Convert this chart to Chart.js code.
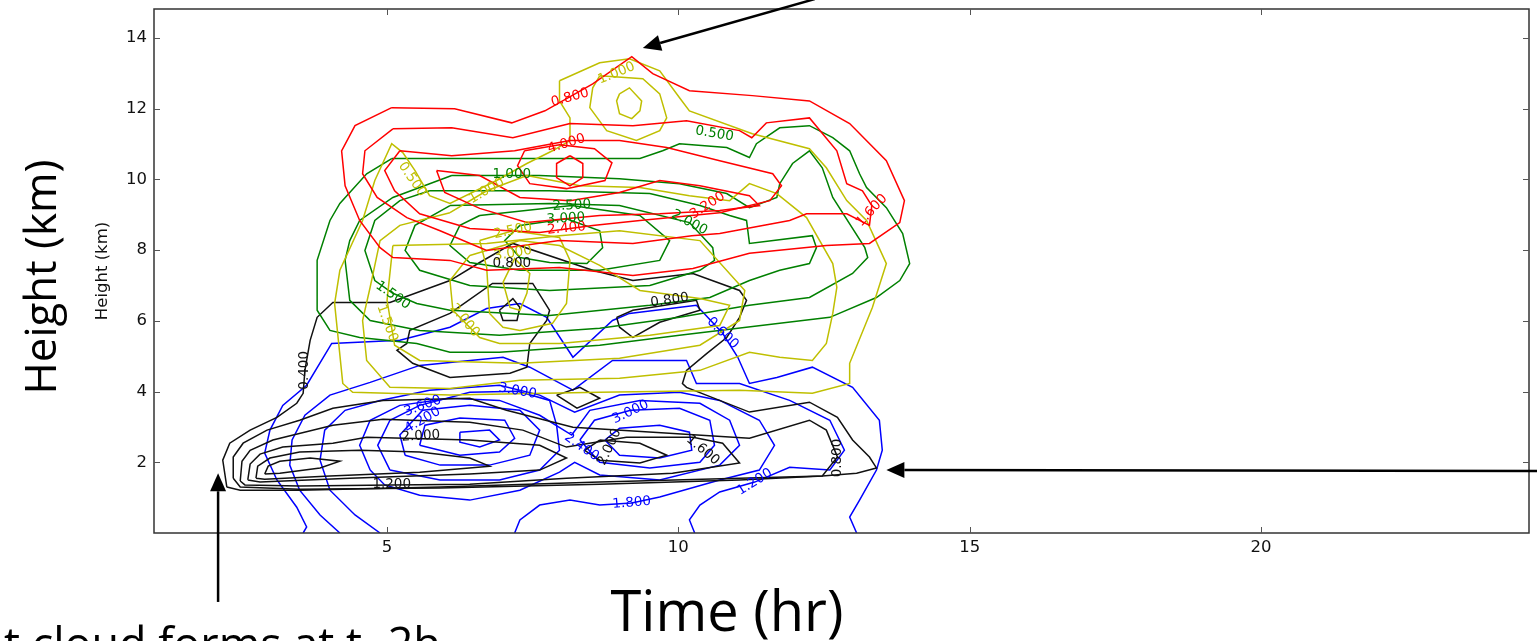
<!DOCTYPE html>
<html>
<head>
<meta charset="utf-8">
<script src="https://cdn.jsdelivr.net/npm/chart.js@4.4.0/dist/chart.umd.min.js"></script>
<style>
  html, body { margin: 0; padding: 0; background: #fff; }
</style>
</head>
<body>
<canvas id="c" width="1537" height="641"></canvas>
<script>
// axis ranges and ticks (time in hours, height in km)
const xRange = [1, 24.6];
const yRange = [0, 14.82];
const xTicks = [5, 10, 15, 20];
const yTicks = [2, 4, 6, 8, 10, 12, 14];

// red contours
const red08 = [[5.08,12.03],[6.16,12.00],[7.14,11.60],[7.71,11.94],[8.53,12.70],[9.20,13.47],[9.56,12.99],[10.19,12.51],[11.27,12.37],[12.25,12.22],[12.94,11.58],[13.57,10.53],[13.88,9.40],[13.80,8.78],[13.28,8.19],[12.54,8.13],[11.22,7.91],[10.25,7.48],[9.22,7.28],[7.96,7.51],[6.71,7.43],[6.08,7.71],[5.10,7.79],[4.88,8.07],[4.53,8.84],[4.28,9.82],[4.22,10.81],[4.45,11.52]];
const red16 = [[5.10,11.43],[6.11,11.46],[7.16,11.18],[8.14,11.58],[9.22,11.52],[10.14,11.66],[11.05,11.38],[11.26,11.18],[11.51,11.60],[12.25,11.74],[12.72,10.81],[12.89,9.88],[13.16,9.68],[13.32,9.26],[13.28,8.70],[12.89,9.03],[12.20,9.03],[11.91,8.84],[10.71,8.47],[10.23,8.41],[9.22,8.19],[7.96,8.27],[6.71,7.99],[5.91,8.55],[5.34,8.92],[4.83,9.49],[4.58,10.16],[4.62,10.81]];
const red24 = [[5.22,10.81],[6.11,10.67],[7.19,10.81],[8.14,11.10],[8.99,11.10],[9.80,10.90],[10.71,10.53],[11.62,10.16],[11.77,9.82],[11.57,9.40],[10.71,9.06],[9.34,8.84],[8.53,8.70],[7.62,8.50],[6.42,8.61],[5.56,9.03],[5.13,9.68],[4.96,10.25]];
const red32 = [[5.85,10.25],[6.59,10.11],[7.28,9.49],[8.14,9.40],[8.99,9.63],[9.68,9.97],[10.37,9.82],[11.22,9.54],[11.39,9.26],[10.71,9.12],[9.68,9.03],[8.65,8.98],[7.40,8.78],[6.59,9.18],[5.99,9.63]];
const red40 = [[7.36,10.81],[7.96,10.98],[8.56,10.87],[8.86,10.47],[8.74,9.97],[8.08,9.74],[7.45,9.88],[7.24,10.39]];
const red48 = [[8.14,10.67],[8.36,10.45],[8.36,10.05],[8.14,9.82],[7.91,10.05],[7.91,10.45]];

// yellow contours
const yel05 = [[7.96,12.79],[8.65,13.30],[9.16,13.41],[9.68,13.07],[10.02,12.31],[10.19,11.94],[11.27,11.29],[12.25,10.87],[12.54,10.33],[12.89,9.40],[13.23,8.84],[13.57,7.62],[13.33,6.38],[12.94,4.80],[12.94,4.23],[12.30,3.95],[11.05,4.04],[8.65,3.98],[6.08,3.90],[4.41,3.98],[4.24,4.23],[4.10,6.49],[4.19,7.43],[4.58,8.84],[4.79,9.97],[5.08,11.01],[5.27,10.76],[5.48,10.25],[5.73,9.54],[6.08,9.32],[6.88,9.97],[7.40,10.45],[7.84,10.81],[8.14,11.10],[8.14,11.74],[7.96,12.22]];
const yel10 = [[6.08,9.06],[6.71,9.68],[7.40,10.11],[8.31,9.82],[9.34,9.77],[10.19,9.54],[10.88,9.40],[11.22,9.88],[11.69,9.60],[12.20,8.92],[12.65,7.62],[12.72,6.95],[12.65,6.21],[12.54,5.36],[12.30,4.88],[11.74,4.97],[11.22,5.11],[10.37,4.60],[8.99,4.38],[7.28,4.32],[6.08,4.09],[5.05,4.12],[4.65,4.88],[4.58,6.01],[4.71,6.95],[4.88,8.27],[5.22,8.70]];
const yel15 = [[5.10,8.13],[6.71,8.19],[7.96,8.41],[8.99,8.55],[10.37,8.27],[11.14,6.86],[11.05,6.01],[10.37,5.31],[8.99,4.94],[7.28,4.80],[5.56,4.88],[5.13,5.31],[5.00,6.58]];
const yel20 = [[6.42,7.85],[7.28,8.27],[7.96,8.13],[8.65,7.57],[9.34,6.86],[10.37,6.63],[10.88,6.44],[10.71,5.87],[9.51,5.59],[7.96,5.36],[6.93,5.36],[6.59,5.53],[6.13,6.30],[6.08,7.14]];
const yel25 = [[6.59,8.27],[7.16,8.55],[7.96,8.36],[8.14,7.71],[8.08,6.49],[7.84,5.93],[7.28,5.73],[6.99,5.82],[6.76,6.21],[6.71,7.51]];
const yel30 = [[6.99,7.09],[7.11,6.38],[7.28,6.30],[7.40,6.78],[7.45,7.34],[7.19,7.76]];
const yelTop10 = [[8.65,12.93],[9.39,12.85],[9.68,12.42],[9.80,11.74],[9.68,11.38],[9.28,11.10],[8.77,11.38],[8.48,12.03],[8.53,12.59]];
const yelTop15 = [[8.99,12.42],[9.16,12.59],[9.37,12.22],[9.34,11.94],[9.20,11.72],[8.99,11.86],[8.94,12.22]];

// green contours
const grn05 = [[5.08,10.59],[6.93,10.59],[9.34,10.59],[9.73,10.81],[10.02,11.01],[10.83,10.90],[11.22,10.62],[11.34,11.01],[11.74,11.46],[12.25,11.52],[12.65,11.18],[12.94,10.81],[13.11,10.16],[13.23,9.77],[13.57,9.20],[13.85,8.47],[13.97,7.62],[13.80,7.14],[13.40,6.66],[12.60,6.10],[11.74,5.93],[10.02,5.59],[8.65,5.31],[6.93,5.11],[6.08,5.11],[5.51,5.36],[4.53,5.53],[4.02,5.73],[3.80,6.30],[3.80,7.71],[4.02,8.84],[4.19,9.32],[4.65,10.16]];
const grn10 = [[6.11,10.11],[7.62,10.11],[8.99,10.02],[10.02,9.88],[10.83,9.60],[11.22,9.20],[11.69,9.49],[11.74,9.88],[11.96,10.45],[12.25,10.81],[12.47,10.33],[12.65,9.49],[13.20,8.07],[13.25,7.79],[12.99,7.34],[12.25,6.66],[11.22,6.44],[10.02,6.10],[8.65,5.79],[6.93,5.59],[5.56,5.73],[4.71,6.01],[4.36,6.58],[4.28,7.71],[4.36,8.27],[4.53,8.84],[5.10,9.49]];
const grn15 = [[5.73,9.68],[7.79,9.68],[9.51,9.60],[10.37,9.26],[10.88,8.98],[11.17,8.84],[11.22,8.19],[12.30,8.41],[12.37,8.07],[12.25,7.62],[11.74,7.43],[11.22,7.14],[10.54,6.66],[9.51,6.44],[7.79,6.15],[6.08,6.30],[5.51,6.49],[5.10,6.78],[4.79,7.14],[4.62,7.99],[4.79,8.84],[5.22,9.40]];
const grn20 = [[6.08,9.26],[7.79,9.32],[8.99,9.26],[10.19,8.78],[10.59,8.07],[10.62,7.71],[10.37,7.43],[9.51,7.00],[7.79,6.86],[6.42,7.00],[5.56,7.43],[5.31,7.99],[5.48,8.70]];
const grn25 = [[6.59,8.98],[8.17,9.26],[9.34,8.98],[9.85,8.27],[9.68,7.71],[8.65,7.43],[7.28,7.43],[6.42,7.65],[6.08,8.13],[6.25,8.70]];
const grn30 = [[7.28,8.70],[8.08,8.89],[8.65,8.55],[8.70,8.07],[8.43,7.62],[7.79,7.65],[7.28,7.79],[7.02,8.27]];

// black contours
const blk04 = [[2.25,1.30],[2.18,2.06],[2.30,2.54],[2.65,2.91],[3.11,3.27],[3.45,3.67],[3.56,3.95],[3.59,4.60],[3.68,5.45],[3.80,6.10],[4.07,6.52],[5.05,6.52],[6.08,7.14],[6.59,7.65],[7.16,8.19],[8.53,7.43],[9.22,7.14],[10.25,7.34],[11.05,6.86],[11.17,6.58],[11.05,6.10],[10.83,5.53],[10.49,5.08],[10.14,4.60],[10.07,4.23],[10.14,4.12],[11.22,3.42],[12.25,3.70],[12.73,3.27],[12.99,2.63],[13.28,2.15],[13.40,1.84],[13.06,1.69],[12.47,1.61],[11.05,1.55],[8.65,1.44],[5.91,1.30],[3.50,1.21],[2.48,1.21]];
const blkRing08 = [[6.08,6.21],[6.81,7.06],[7.50,7.06],[7.79,6.30],[7.74,6.01],[7.45,5.36],[7.40,4.69],[7.11,4.52],[6.08,4.40],[5.44,4.80],[5.17,5.17],[5.34,5.36],[5.39,5.73]];
const blkSmallA = [[6.93,6.30],[7.16,6.63],[7.28,6.38],[7.23,6.01],[6.99,6.01]];
const blkSmallB = [[8.94,6.10],[9.22,6.30],[10.31,6.58],[10.37,6.30],[9.68,5.96],[9.22,5.53],[8.99,5.82]];
const blkSmallC = [[7.91,3.90],[8.31,4.12],[8.65,3.81],[8.26,3.53]];
const blkLow08 = [[2.36,1.55],[2.36,2.15],[2.53,2.54],[2.94,2.91],[3.50,3.19],[4.07,3.53],[4.93,3.75],[6.42,3.81],[7.05,3.47],[8.19,2.99],[11.22,2.68],[12.25,3.19],[12.54,2.91],[12.73,2.15],[12.47,1.61],[11.05,1.50],[8.65,1.38],[5.91,1.27],[3.50,1.24],[2.48,1.30]];
const blkLow12 = [[2.48,1.47],[2.51,2.03],[2.65,2.34],[3.04,2.63],[4.07,3.05],[4.93,3.22],[6.42,3.13],[7.33,2.91],[8.08,2.43],[9.11,2.71],[10.25,2.71],[10.76,2.54],[11.05,1.98],[9.90,1.69],[8.08,1.55],[6.42,1.38],[5.08,1.36],[3.50,1.33],[2.56,1.36]];
const blkLow16 = [[2.61,1.50],[2.65,1.95],[2.82,2.23],[3.21,2.43],[4.07,2.54],[4.65,2.71],[6.42,2.63],[7.62,2.48],[8.08,2.12],[7.62,1.78],[6.42,1.67],[4.36,1.55],[2.82,1.44]];
const blkLow20 = [[2.75,1.55],[2.78,1.89],[2.99,2.12],[3.50,2.29],[4.53,2.34],[5.56,2.29],[6.42,2.12],[6.76,1.89],[5.56,1.72],[4.02,1.61],[2.90,1.52]];
const blkLow24 = [[2.90,1.67],[2.96,1.89],[3.16,2.03],[3.68,2.12],[4.19,2.03],[3.85,1.84],[3.16,1.69]];
const blkRight20 = [[8.65,2.63],[9.34,2.54],[9.80,2.20],[9.34,1.98],[8.65,2.06],[8.39,2.34]];

// blue contours (the three outer ones run into the ground)
const blu06 = [[3.56,0],[3.62,0.17],[3.45,0.73],[3.11,1.50],[2.90,2.26],[2.99,2.91],[3.21,3.61],[3.62,4.18],[4.05,5.36],[5.22,5.45],[6.08,5.82],[6.71,6.35],[7.28,6.49],[7.74,6.10],[8.19,4.97],[8.87,6.01],[9.16,6.21],[10.31,6.44],[10.76,5.65],[11.02,4.97],[11.22,4.23],[11.69,4.40],[12.30,4.69],[12.99,4.12],[13.45,3.19],[13.50,2.34],[13.40,1.78],[13.11,0.93],[12.94,0.45],[13.06,0]];
const blu12 = [[4.19,0],[3.85,0.51],[3.50,1.21],[3.33,1.92],[3.37,2.63],[3.59,3.33],[4.02,3.90],[4.71,4.26],[5.56,4.74],[6.99,4.97],[7.45,4.69],[8.19,4.04],[8.87,4.88],[10.14,4.88],[10.31,4.23],[11.05,4.23],[11.91,3.75],[12.60,3.19],[12.85,2.34],[12.60,1.78],[11.91,1.86],[11.31,1.44],[10.71,1.16],[10.37,0.79],[10.19,0.37],[10.28,0]];
const blu18 = [[4.88,0],[4.45,0.51],[4.02,1.21],[3.85,2.06],[3.93,2.91],[4.28,3.47],[4.88,3.75],[5.73,4.04],[6.93,4.18],[7.62,3.90],[8.22,3.42],[8.99,3.90],[10.02,3.98],[10.71,3.75],[11.39,3.19],[11.65,2.48],[11.39,1.78],[10.71,1.50],[9.68,1.02],[9.20,0.85],[8.65,0.79],[8.14,0.93],[7.62,0.79],[7.28,0.37],[7.19,0]];
const blu24 = [[4.71,1.78],[4.53,2.48],[4.71,3.19],[5.22,3.61],[6.08,3.81],[6.93,3.75],[7.62,3.33],[8.17,2.77],[8.48,3.47],[9.34,3.75],[10.37,3.67],[10.88,3.19],[11.05,2.48],[10.71,1.92],[9.68,1.50],[8.65,1.64],[8.22,2.00],[7.96,1.72],[7.28,1.21],[6.42,0.93],[5.56,1.07],[4.96,1.36]];
const blu30L = [[5.05,1.78],[4.84,2.48],[5.05,3.19],[5.56,3.61],[6.42,3.98],[7.24,4.01],[7.79,3.75],[7.91,3.05],[7.96,2.34],[7.62,1.78],[6.93,1.50],[5.91,1.50]];
const blu36L = [[5.31,2.20],[5.22,2.77],[5.61,3.47],[6.42,3.61],[7.28,3.47],[7.62,2.91],[7.45,2.20],[6.76,1.92],[5.91,1.92]];
const blu42L = [[5.56,2.48],[5.65,3.05],[6.25,3.25],[7.02,3.19],[7.19,2.68],[6.93,2.29],[6.25,2.20]];
const blu48L = [[6.25,2.85],[6.76,2.91],[6.93,2.63],[6.59,2.43],[6.25,2.57]];
const blu30R = [[8.31,2.63],[8.56,3.19],[9.18,3.47],[10.02,3.53],[10.54,3.19],[10.62,2.48],[10.37,2.00],[9.51,1.84],[8.65,2.00]];
const blu36R = [[8.74,2.63],[8.99,2.96],[9.68,3.05],[10.19,2.85],[10.23,2.34],[9.68,2.12],[8.99,2.20]];

// contour labels: text, time, height, angle (deg)
const redLabels = [['0.800',8.14,12.31,-15],['4.000',8.08,11.01,-17],['2.400',8.08,8.61,-5],['3.200',10.50,9.26,-33],['1.600',13.32,9.12,-47]];
const yelLabels = [['1.000',8.94,13.00,-22],['0.500',5.43,10.00,55],['1.000',6.71,9.68,-30],['2.500',7.16,8.55,-12],['3.000',7.16,7.91,-10],['2.000',6.33,6.01,50],['1.500',5.00,5.93,70]];
const grnLabels = [['1.000',7.14,10.14,0],['2.500',8.17,9.26,-3],['3.000',8.07,8.89,-3],['2.000',10.19,8.78,28],['1.500',5.10,6.72,35],['0.500',10.62,11.29,10]];
const blkLabels = [['0.800',7.14,7.62,0],['0.800',9.85,6.58,-8],['0.400',3.59,4.60,-90],['2.000',5.58,2.74,-3],['1.200',5.08,1.38,0],['2.000',8.82,2.43,-65],['1.600',10.42,2.34,40],['0.800',12.73,2.12,-90]];
const bluLabels = [['0.600',10.76,5.65,45],['3.000',7.24,4.01,10],['3.600',5.61,3.59,-20],['4.200',5.61,3.19,-30],['3.000',9.18,3.42,-25],['2.400',8.34,2.43,35],['1.800',9.20,0.85,-5],['1.200',11.31,1.44,-32]];

// annotation arrows: [tailTime, tailHeight, tipTime, tipHeight]
const arrows = [[12.34,15.10,9.39,13.72],[2.10,-1.95,2.10,1.69],[24.80,1.75,13.57,1.78]];

const RED = '#ff0000', YEL = '#bfbf00', GRN = '#008000', BLK = '#111111', BLU = '#0000ff';

function contour(pts, color, open) {
  const data = pts.map(p => ({x: p[0], y: p[1]}));
  if (!open) data.push({x: pts[0][0], y: pts[0][1]});
  return {data: data, borderColor: color, borderWidth: 1.5, showLine: true,
    pointRadius: 0, pointHoverRadius: 0, fill: false, tension: 0};
}

const datasets = [];
[red08, red16, red24, red32, red40, red48].forEach(c => datasets.push(contour(c, RED)));
[yel05, yel10, yel15, yel20, yel25, yel30, yelTop10, yelTop15].forEach(c => datasets.push(contour(c, YEL)));
[grn05, grn10, grn15, grn20, grn25, grn30].forEach(c => datasets.push(contour(c, GRN)));
[blk04, blkRing08, blkSmallA, blkSmallB, blkSmallC, blkLow08, blkLow12, blkLow16, blkLow20, blkLow24, blkRight20].forEach(c => datasets.push(contour(c, BLK)));
[blu06, blu12, blu18].forEach(c => datasets.push(contour(c, BLU, true)));
[blu24, blu30L, blu36L, blu42L, blu48L, blu30R, blu36R].forEach(c => datasets.push(contour(c, BLU)));

function fitText(ctx, txt, family, width) {
  ctx.font = '40px ' + family;
  return 40 * width / ctx.measureText(txt).width;
}

const extras = {
  id: 'extras',
  afterDatasetsDraw(chart) {
    const ctx = chart.ctx, a = chart.chartArea;
    const xs = chart.scales.x, ys = chart.scales.y;

    // contour labels
    const groups = [[redLabels, RED], [yelLabels, YEL], [grnLabels, GRN], [blkLabels, BLK], [bluLabels, BLU]];
    ctx.save();
    ctx.font = '13.5px "DejaVu Sans"';
    ctx.textAlign = 'center';
    ctx.textBaseline = 'middle';
    groups.forEach(([list, col]) => {
      list.forEach(([txt, t, h, ang]) => {
        ctx.save();
        ctx.translate(xs.getPixelForValue(t), ys.getPixelForValue(h));
        ctx.rotate(ang * Math.PI / 180);
        ctx.fillStyle = col;
        ctx.fillText(txt, 0, 0);
        ctx.restore();
      });
    });
    ctx.restore();

    // frame + inward ticks
    ctx.save();
    ctx.strokeStyle = '#333';
    ctx.lineWidth = 1.5;
    ctx.strokeRect(a.left, a.top, a.right - a.left, a.bottom - a.top);
    ctx.lineWidth = 1;
    ctx.strokeStyle = '#555';
    ctx.beginPath();
    xTicks.forEach(v => {
      const px = Math.round(xs.getPixelForValue(v)) + 0.5;
      ctx.moveTo(px, a.bottom); ctx.lineTo(px, a.bottom - 6);
      ctx.moveTo(px, a.top); ctx.lineTo(px, a.top + 6);
    });
    yTicks.forEach(v => {
      const py = Math.round(ys.getPixelForValue(v)) + 0.5;
      ctx.moveTo(a.left, py); ctx.lineTo(a.left + 6, py);
      ctx.moveTo(a.right, py); ctx.lineTo(a.right - 6, py);
    });
    ctx.stroke();
    ctx.restore();
  },
  afterDraw(chart) {
    const ctx = chart.ctx, a = chart.chartArea;
    const xs = chart.scales.x, ys = chart.scales.y;

    // small axis title
    ctx.save();
    ctx.fillStyle = '#111';
    ctx.font = '16.5px "DejaVu Sans"';
    ctx.translate(103, (a.top + a.bottom) / 2);
    ctx.rotate(-Math.PI / 2);
    ctx.textAlign = 'center';
    ctx.textBaseline = 'middle';
    ctx.fillText('Height (km)', 0, 0);
    ctx.restore();

    // big slide titles
    const fam = '"Open Sans"';
    ctx.save();
    ctx.fillStyle = '#000';
    let s = fitText(ctx, 'Time (hr)', fam, 233);
    ctx.font = s + 'px ' + fam;
    ctx.textAlign = 'center';
    ctx.textBaseline = 'alphabetic';
    ctx.fillText('Time (hr)', 727, 631);

    s = fitText(ctx, 'Height (km)', fam, 235);
    ctx.font = s + 'px ' + fam;
    ctx.save();
    ctx.translate(56, 277);
    ctx.rotate(-Math.PI / 2);
    ctx.fillText('Height (km)', 0, 0);
    ctx.restore();

    s = fitText(ctx, 't cloud forms at t~2h', fam, 437);
    ctx.font = s + 'px ' + fam;
    ctx.textAlign = 'left';
    ctx.fillText('t cloud forms at t~2h', 4, 660);
    ctx.restore();

    // arrows
    ctx.save();
    ctx.strokeStyle = '#000';
    ctx.fillStyle = '#000';
    ctx.lineWidth = 2.5;
    arrows.forEach(([t0, h0, t1, h1]) => {
      const x0 = xs.getPixelForValue(t0), y0 = ys.getPixelForValue(h0);
      const x1 = xs.getPixelForValue(t1), y1 = ys.getPixelForValue(h1);
      const ang = Math.atan2(y1 - y0, x1 - x0);
      const L = 18, W = 8;
      const bx = x1 - L * Math.cos(ang), by = y1 - L * Math.sin(ang);
      ctx.beginPath();
      ctx.moveTo(x0, y0);
      ctx.lineTo(bx, by);
      ctx.stroke();
      ctx.beginPath();
      ctx.moveTo(x1, y1);
      ctx.lineTo(bx + W * Math.sin(ang), by - W * Math.cos(ang));
      ctx.lineTo(bx - W * Math.sin(ang), by + W * Math.cos(ang));
      ctx.closePath();
      ctx.fill();
    });
    ctx.restore();
  }
};

new Chart(document.getElementById('c'), {
  type: 'scatter',
  data: { datasets: datasets },
  options: {
    responsive: false,
    devicePixelRatio: 1,
    animation: false,
    events: [],
    layout: { padding: { left: 0, right: 8, top: 9, bottom: 0 } },
    plugins: { legend: { display: false }, tooltip: { enabled: false } },
    scales: {
      x: {
        type: 'linear', min: xRange[0], max: xRange[1],
        grid: { display: false, drawTicks: false },
        border: { display: false },
        afterBuildTicks: s => { s.ticks = xTicks.map(v => ({ value: v })); },
        afterFit: s => { s.height = 108; s.paddingLeft = 0; s.paddingRight = 0; },
        ticks: { color: '#111', padding: 5, font: { family: 'DejaVu Sans', size: 16.5 } }
      },
      y: {
        type: 'linear', min: yRange[0], max: yRange[1],
        grid: { display: false, drawTicks: false },
        border: { display: false },
        afterBuildTicks: s => { s.ticks = yTicks.map(v => ({ value: v })); },
        afterFit: s => { s.width = 154; s.paddingTop = 0; s.paddingBottom = 0; },
        ticks: { color: '#111', padding: 7, font: { family: 'DejaVu Sans', size: 16.5 } }
      }
    }
  },
  plugins: [extras]
});
</script>
</body>
</html>
